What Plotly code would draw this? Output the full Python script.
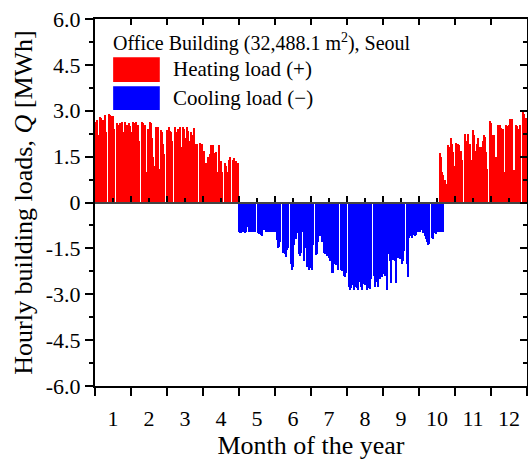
import plotly.graph_objects as go

# ---------------- data (daily peak hourly loads, MWh) ----------------
month_len = [31, 28, 31, 30, 31, 30, 31, 31, 30, 31, 30, 31]
month_labels = ["1", "2", "3", "4", "5", "6", "7", "8", "9", "10", "11", "12"]
hours_per_month = 730
y_ticks = [-6.0, -4.5, -3.0, -1.5, 0.0, 1.5, 3.0, 4.5, 6.0]
y_tick_text = ["-6.0", "-4.5", "-3.0", "-1.5", "0", "1.5", "3.0", "4.5", "6.0"]

# heating load (+), values listed from the 1st day of each month
heat_jan = [2.64, 2.70, 2.20, 0, 2.80, 2.75, 2.70, 2.60, 2.85, 2.30, 0, 2.88, 2.85, 2.70, 2.83, 2.83,
            2.40, 0, 2.60, 2.55, 2.00, 2.60, 2.64, 2.30, 0, 2.64, 2.50, 2.55, 2.60, 2.50, 2.30]
heat_feb = [0, 2.64, 2.60, 2.64, 2.50, 2.55, 2.00, 0, 2.64, 2.60, 2.50, 2.55, 1.00, 2.40, 0,
            2.64, 2.60, 2.10, 1.50, 1.20, 2.48, 0, 2.48, 1.10, 2.37, 2.30, 1.90, 1.60]
heat_mar = [0, 2.37, 2.30, 2.48, 2.35, 2.30, 2.00, 0, 2.48, 2.30, 2.31, 2.40, 2.48, 1.80, 0,
            2.48, 2.40, 2.10, 2.48, 2.35, 2.00, 0, 2.30, 2.20, 2.45, 1.10, 1.90, 1.90, 0, 1.95, 1.90]
heat_apr = [1.90, 1.50, 1.70, 1.30, 0, 1.50, 1.45, 1.60, 1.88, 1.88, 1.63, 0, 1.65, 1.00, 1.88,
            1.30, 1.35, 1.00, 0, 1.30, 1.20, 1.00, 0.80, 1.40, 1.50, 0, 1.40, 1.45, 1.30, 1.35]
heat_may = [1.30]
heat_oct = [0, 0, 0, 0, 0, 0, 0, 0, 0, 0, 0, 0, 0, 0, 0, 0, 0, 0,
            1.62, 1.50, 1.00, 0.90, 0.75, 0.60, 0, 1.87, 1.80, 2.10, 1.90, 1.65, 1.20]
heat_nov = [0, 1.93, 1.90, 1.87, 1.60, 1.70, 1.38, 0, 2.25, 2.00, 1.75, 2.25, 1.90, 1.40, 0,
            2.36, 2.20, 1.70, 1.90, 2.10, 1.80, 0, 1.80, 2.00, 2.20, 2.15, 1.65, 1.10, 0, 2.66]
heat_dec = [2.60, 2.20, 2.10, 2.20, 1.50, 0, 2.53, 2.50, 2.53, 2.45, 2.40, 1.00, 0, 2.55, 2.50,
            2.55, 2.72, 2.70, 2.72, 0, 1.05, 2.55, 2.50, 2.35, 2.40, 2.55, 0, 2.98, 2.90, 2.70, 2.75]

# cooling load (-)
cool_may = [0, -0.98, -1.00, -1.00, -0.97, -0.98, -1.00, -0.95, -0.80, 0, -0.95, -0.95, -0.96, -0.95,
            -0.97, -0.95, 0, -1.00, -1.03, -0.97, -1.06, -1.08, -0.90, 0, -0.95, -0.96, -0.95, -0.98,
            -0.95, -0.95, 0]
cool_jun = [-0.96, -0.97, -1.23, -1.50, -1.45, -1.30, 0, -1.66, -1.60, -1.70, -1.77, -1.55, -1.50, 0,
            -2.00, -2.20, -2.10, -1.40, -1.20, -1.00, 0, -1.70, -1.75, -1.65, -0.95, -1.90, -1.50, 0,
            -2.10, -2.20]
cool_jul = [-2.15, -2.00, -2.20, -1.40, 0, -1.72, -1.70, -1.28, -1.00, -1.10, -1.30, 0, -1.65, -1.70,
            -1.60, -1.75, -1.80, -1.90, 0, -2.30, -2.30, -2.00, -2.05, -1.90, -2.20, 0, -2.20, -2.25,
            -2.15, -2.40, -2.45]
cool_aug = [-2.30, 0, -2.75, -2.86, -2.80, -2.70, -2.85, -2.75, 0, -2.80, -2.86, -2.60, -2.75, -2.85,
            -2.65, 0, -2.70, -2.86, -2.80, -2.75, -2.84, -2.50, 0, -2.40, -2.75, -2.60, -2.50, -2.75,
            -2.50, 0, -2.45]
cool_sep = [-2.35, -2.30, -2.40, -2.86, -1.70, 0, -1.90, -2.64, -1.88, -1.85, -1.90, -2.64, 0, -1.80,
            -1.85, -1.75, -2.00, -1.90, -1.60, 0, -2.00, -2.43, -1.15, -1.10, -1.15, -1.05, 0, -1.10,
            -1.05, -0.95]
cool_oct = [-0.96, -0.95, -0.90, 0, -1.00, -1.10, -1.20, -1.30, -1.40, -1.35, 0, -1.15, -1.20, -1.00,
            -1.00, -1.02, -0.95, 0, -0.95, -0.96, -0.95, -0.95]

heating = {1: heat_jan, 2: heat_feb, 3: heat_mar, 4: heat_apr, 5: heat_may,
           10: heat_oct, 11: heat_nov, 12: heat_dec}
cooling = {5: cool_may, 6: cool_jun, 7: cool_jul, 8: cool_aug, 9: cool_sep, 10: cool_oct}

month_start = [sum(month_len[:i]) for i in range(12)]


def to_xy(series):
    xs, ys = [], []
    for m, vals in series.items():
        for i, v in enumerate(vals):
            day = month_start[m - 1] + i
            xs.append((day + 0.5) * 24)
            ys.append(v)
    return xs, ys


hx, hy = to_xy(heating)
cx, cy = to_xy(cooling)

FONT = "Liberation Serif"
x_end = 12 * hours_per_month
boundaries = [i * hours_per_month for i in range(13)]
mids = [(i + 0.5) * hours_per_month for i in range(12)]

fig = go.Figure()
fig.add_trace(go.Bar(x=hx, y=hy, width=24, marker=dict(color="#FF0000", line=dict(width=0)),
                     name="Heating load (+)", showlegend=False))
fig.add_trace(go.Bar(x=cx, y=cy, width=24, marker=dict(color="#0000FF", line=dict(width=0)),
                     name="Cooling load (−)", showlegend=False))
# helper traces so that the frame / zero axes are drawn
fig.add_trace(go.Scatter(x=[0], y=[0], mode="markers", marker=dict(opacity=0), hoverinfo="skip",
                         showlegend=False, xaxis="x2", yaxis="y2"))
fig.add_trace(go.Scatter(x=[0], y=[0], mode="markers", marker=dict(opacity=0), hoverinfo="skip",
                         showlegend=False, xaxis="x3", yaxis="y"))

fig.update_layout(
    width=528, height=461,
    margin=dict(l=95, r=1, t=19, b=75),
    paper_bgcolor="white", plot_bgcolor="white",
    barmode="overlay", bargap=0,
    font=dict(family=FONT, size=22, color="black"),
    xaxis=dict(
        range=[0, x_end], tickmode="array", tickvals=mids, ticktext=month_labels,
        ticks="outside", ticklen=12, tickcolor="rgba(0,0,0,0)",
        minor=dict(tickmode="array", tickvals=boundaries, ticks="outside", ticklen=8,
                   tickwidth=2, tickcolor="black", showgrid=False),
        showline=True, linecolor="black", linewidth=2, showgrid=False, zeroline=False,
        tickfont=dict(size=22),
        title=dict(text="Month of the year", font=dict(size=26), standoff=4),
    ),
    xaxis2=dict(
        range=[0, x_end], overlaying="x", side="top", anchor="y2",
        tickmode="array", tickvals=boundaries, ticks="inside", ticklen=6, tickwidth=2,
        tickcolor="black", showticklabels=False, showline=True, linecolor="black",
        linewidth=2, showgrid=False, zeroline=False,
    ),
    xaxis3=dict(
        range=[0, x_end], overlaying="x", anchor="free", position=0.5, side="bottom",
        tickmode="array", tickvals=boundaries, ticks="inside", ticklen=6, tickwidth=2,
        tickcolor="black",
        minor=dict(tickmode="array", tickvals=mids, ticks="inside", ticklen=4, tickwidth=2,
                   tickcolor="black", showgrid=False),
        showticklabels=False, showline=True, linecolor="#444444", linewidth=1.5,
        showgrid=False, zeroline=False,
    ),
    yaxis=dict(
        range=[-6, 6], tickmode="array", tickvals=y_ticks, ticktext=y_tick_text,
        ticks="outside", ticklen=8, tickwidth=2, tickcolor="black",
        minor=dict(tickmode="linear", tick0=0, dtick=0.75, ticks="outside", ticklen=4,
                   tickwidth=2, tickcolor="black", showgrid=False),
        showline=True, linecolor="black", linewidth=2, showgrid=False, zeroline=False,
        tickfont=dict(size=22),
        title=dict(text="Hourly building loads, <i>Q</i> [MWh]", font=dict(size=26), standoff=6),
    ),
    yaxis2=dict(
        range=[-6, 6], overlaying="y", side="right", anchor="x2",
        tickmode="array", tickvals=y_ticks, ticks="inside", ticklen=7, tickwidth=2,
        tickcolor="black",
        minor=dict(tickmode="linear", tick0=0, dtick=0.75, ticks="inside", ticklen=4,
                   tickwidth=2, tickcolor="black", showgrid=False),
        showticklabels=False, showline=True, linecolor="black", linewidth=2,
        showgrid=False, zeroline=False,
    ),
)

# legend drawn as a box inside the plot
fig.add_shape(type="rect", xref="paper", yref="paper", x0=0.042, x1=0.150, y0=0.828, y1=0.896,
              fillcolor="#FF0000", line=dict(width=0))
fig.add_shape(type="rect", xref="paper", yref="paper", x0=0.042, x1=0.150, y0=0.752, y1=0.817,
              fillcolor="#0000FF", line=dict(width=0))
fig.add_annotation(xref="paper", yref="paper", x=0.038, y=0.935, xanchor="left", yanchor="middle",
                   text="Office Building (32,488.1 m<sup>2</sup>), Seoul", showarrow=False,
                   font=dict(family=FONT, size=20, color="black"))
fig.add_annotation(xref="paper", yref="paper", x=0.175, y=0.863, xanchor="left", yanchor="middle",
                   text="Heating load (+)", showarrow=False,
                   font=dict(family=FONT, size=21, color="black"))
fig.add_annotation(xref="paper", yref="paper", x=0.175, y=0.785, xanchor="left", yanchor="middle",
                   text="Cooling load (−)", showarrow=False,
                   font=dict(family=FONT, size=21, color="black"))

fig.write_html("out.html")
